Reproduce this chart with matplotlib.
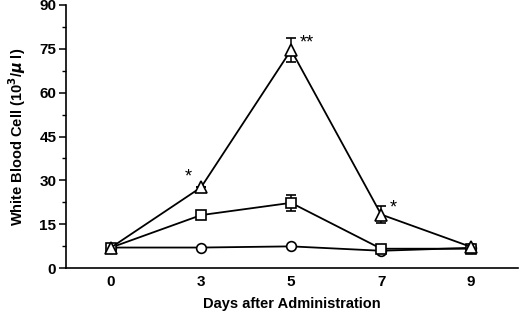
import matplotlib
matplotlib.use("Agg")
import matplotlib.pyplot as plt
from matplotlib.ticker import MultipleLocator

plt.rcParams['font.family'] = ['Liberation Sans', 'DejaVu Sans']
plt.rcParams['font.weight'] = 'bold'

days = ['0', '3', '5', '7', '9']
circle_vals = [7.0, 7.0, 7.4, 5.9, 6.9]
circle_err = [0, 0, 0, 0, 0]
square_vals = [7.0, 18.1, 22.3, 6.6, 6.6]
square_err = [0, 0, 2.7, 0, 0]
triangle_vals = [7.0, 27.6, 74.6, 18.3, 7.2]
triangle_err = [0, 0, 4.2, 2.8, 0]
stars = ['', '*', '**', '*', '']

fig = plt.figure(figsize=(5.2, 3.16), dpi=100)
ax = fig.add_axes([66/520, 48/316, 452/520, 263/316])
x = list(range(len(days)))

for vals, err, mk, ms in [(circle_vals, circle_err, 'o', 7),
                          (square_vals, square_err, 's', 7),
                          (triangle_vals, triangle_err, '^', 8.5)]:
    ax.errorbar(x, vals, yerr=err, color='black', lw=1.3, marker=mk, ms=ms,
                mfc='white', mec='black', mew=1.2, capsize=3.5, elinewidth=1.1,
                capthick=1.1, zorder=3)

for i, s in enumerate(stars):
    if not s:
        continue
    if i == 1:
        ax.text(i - 0.1, triangle_vals[i] + 0.5, s, ha='right', va='bottom', fontsize=13, fontweight='normal')
    else:
        ax.text(i + 0.09, triangle_vals[i] - 0.5, s, ha='left', va='bottom', fontsize=13, fontweight='normal')

ax.set_xlim(-0.5, 4.52)
ax.set_ylim(0, 90)
ax.set_xticks(x)
ax.set_xticklabels(days)
ax.yaxis.set_major_locator(MultipleLocator(15))
ax.yaxis.set_minor_locator(MultipleLocator(7.5))
ax.tick_params(axis='y', which='major', direction='out', length=5, width=1.1, labelsize=11, pad=2)
ax.tick_params(axis='x', which='major', length=0, labelsize=11, pad=5)
ax.tick_params(axis='y', which='minor', direction='out', length=3, width=1.0)
for lab in ax.get_xticklabels() + ax.get_yticklabels():
    lab.set_fontweight('bold')
ax.spines['top'].set_visible(False)
ax.spines['right'].set_visible(False)
ax.spines['left'].set_linewidth(1.2)
ax.spines['bottom'].set_linewidth(1.2)
ax.set_xlabel('Days after Administration', fontsize=10.5, fontweight='bold', labelpad=6)
ax.set_ylabel(r'White Blood Cell (10$^{3}$/$\mu$ l)', fontsize=10.5, fontweight='bold', labelpad=8)

fig.savefig('out.png', dpi=100)
